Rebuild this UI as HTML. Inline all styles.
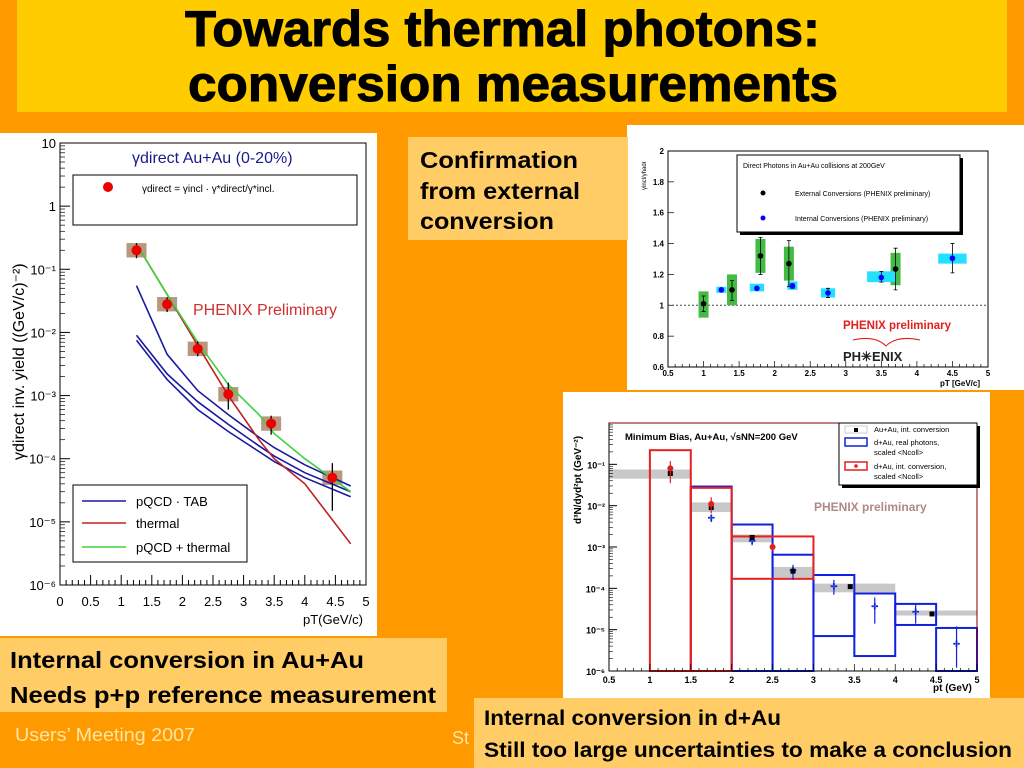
<!DOCTYPE html>
<html><head><meta charset="utf-8"><style>
html,body{margin:0;padding:0;background:#FF9900;}
svg{display:block;font-family:"Liberation Sans",sans-serif;}
</style></head><body>
<svg id="s" width="1024" height="768" viewBox="0 0 1024 768">
<rect x="0" y="0" width="1024" height="768" fill="#FF9900"/>
<rect x="17" y="0" width="990" height="112" fill="#FFCC00"/>
<text x="185" y="46" font-size="50" font-weight="bold" stroke="#000" stroke-width="1" textLength="635" lengthAdjust="spacingAndGlyphs">Towards thermal photons:</text>
<text x="188" y="101" font-size="50" font-weight="bold" stroke="#000" stroke-width="1" textLength="650" lengthAdjust="spacingAndGlyphs">conversion measurements</text>

<rect x="0" y="133" width="377" height="503" fill="#fff"/>
<rect x="627" y="125" width="397" height="265" fill="#fff"/>
<rect x="563" y="392" width="427" height="306" fill="#fff"/>

<rect x="408" y="137" width="220" height="103" fill="#FFCC66"/>
<text x="420" y="168" font-size="23" font-weight="bold" textLength="158" lengthAdjust="spacingAndGlyphs">Confirmation</text>
<text x="420" y="199" font-size="23" font-weight="bold" textLength="160" lengthAdjust="spacingAndGlyphs">from external</text>
<text x="420" y="229" font-size="23" font-weight="bold" textLength="134" lengthAdjust="spacingAndGlyphs">conversion</text>

<rect x="0" y="638" width="447" height="74" fill="#FFCC66"/>
<text x="10" y="668" font-size="23" font-weight="bold" textLength="354" lengthAdjust="spacingAndGlyphs">Internal conversion in Au+Au</text>
<text x="10" y="703" font-size="23" font-weight="bold" textLength="426" lengthAdjust="spacingAndGlyphs">Needs p+p reference measurement</text>
<text x="15" y="741" font-size="18" fill="#FFE6A0" textLength="180" lengthAdjust="spacingAndGlyphs">Users’ Meeting 2007</text>
<text x="452" y="744" font-size="18" fill="#FFE6A0">St</text>
<rect x="474" y="698" width="550" height="70" fill="#FFCC66"/>
<text x="484" y="725" font-size="21" font-weight="bold" textLength="297" lengthAdjust="spacingAndGlyphs">Internal conversion in d+Au</text>
<text x="484" y="757" font-size="21" font-weight="bold" textLength="528" lengthAdjust="spacingAndGlyphs">Still too large uncertainties to make a conclusion</text>
<g id="g1"></g><g id="g2"></g><g id="g3"></g>
</svg>
<script>
// ---- Left chart data ----
const leftPtX = [1.25, 1.75, 2.25, 2.75, 3.45, 4.45];
const leftPtY = [0.2, 0.028, 0.0055, 0.00105, 0.00036, 0.00005];
const leftErrLo = [0.15, 0.021, 0.0042, 0.0006, 0.00024, 0.000015];
const leftErrHi = [0.26, 0.036, 0.0072, 0.0016, 0.00048, 0.000085];
const curveX = [1.25, 1.75, 2.25, 2.75, 3.25, 3.5, 4, 4.75];
const greenY = [0.25, 0.04, 0.007, 0.0015, 0.0005, 0.00025, 0.0001, 0.00003];
const thermalY = [0.25, 0.04, 0.0062, 0.001, 0.0002, 0.0001, 0.00004, 0.0000045];
const blueUpY = [0.055, 0.0045, 0.0012, 0.0005, 0.00022, 0.00015, 0.00008, 0.000037];
const blueMidY = [0.009, 0.0022, 0.0008, 0.00035, 0.00016, 0.00011, 0.00006, 0.00003];
const blueLoY = [0.0075, 0.0018, 0.0006, 0.00027, 0.00013, 0.00009, 0.00005, 0.000025];
const leftXTicks = ["0","0.5","1","1.5","2","2.5","3","3.5","4","4.5","5"];
const leftYTicks = ["10","1","10⁻¹","10⁻²","10⁻³","10⁻⁴","10⁻⁵","10⁻⁶"];
// ---- Ratio chart data ----
const extX = [1.0, 1.4, 1.8, 2.2, 3.7];
const extY = [1.01, 1.10, 1.32, 1.27, 1.235];
const extSysLo = [0.92, 1.0, 1.21, 1.16, 1.13];
const extSysHi = [1.09, 1.2, 1.43, 1.38, 1.34];
const extErrLo = [0.96, 1.03, 1.2, 1.12, 1.1];
const extErrHi = [1.06, 1.16, 1.44, 1.42, 1.37];
const intX = [1.25, 1.75, 2.25, 2.75, 3.5, 4.5];
const intY = [1.10, 1.11, 1.125, 1.08, 1.18, 1.305];
const intSysLo = [1.08, 1.09, 1.10, 1.05, 1.15, 1.27];
const intSysHi = [1.12, 1.14, 1.155, 1.11, 1.22, 1.335];
const intErrLo = [1.09, 1.10, 1.11, 1.05, 1.15, 1.21];
const intErrHi = [1.11, 1.12, 1.14, 1.11, 1.22, 1.40];
const intHalfW = [0.07, 0.1, 0.07, 0.1, 0.2, 0.2];
const ratioXTicks = ["0.5","1","1.5","2","2.5","3","3.5","4","4.5","5"];
const ratioYTicks = ["0.6","0.8","1","1.2","1.4","1.6","1.8","2"];
// ---- d+Au chart data ----
const redBoxX0 = [1, 1.5, 2];
const redBoxX1 = [1.5, 2, 3];
const redBoxLo = [1e-6, 1e-6, 1.7e-4];
const redBoxHi = [0.22, 0.027, 1.8e-3];
const blueBoxX0 = [1.5, 2, 2.5, 3, 3.5, 4, 4.5];
const blueBoxX1 = [2, 2.5, 3, 3.5, 4, 4.5, 5];
const blueBoxLo = [1e-6, 1e-6, 1e-6, 7e-6, 2.3e-6, 1.3e-5, 1e-6];
const blueBoxHi = [0.029, 3.5e-3, 6.5e-4, 2.1e-4, 7.5e-5, 4.2e-5, 1.1e-5];
const grayX0 = [0.5, 1.5, 2, 2.5, 3, 4];
const grayX1 = [1.5, 2, 2.5, 3, 4, 5];
const grayLo = [0.045, 0.007, 0.0013, 0.00018, 8e-5, 2.2e-5];
const grayHi = [0.075, 0.012, 0.002, 0.00033, 1.3e-4, 2.9e-5];
const auX = [1.25, 1.75, 2.25, 2.75, 3.45, 4.45];
const auY = [0.06, 0.009, 0.0017, 0.00026, 0.00011, 0.000024];
const dauX = [1.75, 2.25, 2.75, 3.25, 3.75, 4.25, 4.75];
const dauY = [0.005, 0.0014, 0.00027, 0.00011, 0.000036, 0.000027, 0.0000045];
const dauLo = [0.004, 0.0011, 0.00016, 0.00007, 0.000014, 0.000014, 0.0000012];
const dauHi = [0.006, 0.0018, 0.00037, 0.00016, 0.00006, 0.00004, 0.000012];
const dconvX = [1.25, 1.75, 2.5];
const dconvY = [0.08, 0.011, 0.001];
const dconvLo = [0.035, 0.0065, 0.0008];
const dconvHi = [0.12, 0.016, 0.0012];
const dauXTicks = ["0.5","1","1.5","2","2.5","3","3.5","4","4.5","5"];
const dauYTicks = ["10⁻⁶","10⁻⁵","10⁻⁴","10⁻³","10⁻²","10⁻¹"];

const NS = "http://www.w3.org/2000/svg";
function mk(parent, tag, attrs, txt) {
  const e = document.createElementNS(NS, tag);
  for (const k in attrs) e.setAttribute(k, attrs[k]);
  if (txt !== undefined) e.textContent = txt;
  parent.appendChild(e);
  return e;
}
function pathOf(xs, ys, sx, sy) {
  return xs.map((x, i) => (i ? "L" : "M") + sx(x).toFixed(1) + "," + sy(ys[i]).toFixed(1)).join(" ");
}

// ================= LEFT CHART =================
(function () {
  const g = document.getElementById("g1");
  const L = 60, R = 366, T = 143, B = 585;
  const sx = v => L + (v / 5) * (R - L);
  const sy = v => B - (Math.log10(v) + 6) / 7 * (B - T);
  const f = mk(g, "rect", { x: L, y: T, width: R - L, height: B - T, fill: "none", stroke: "#000", "stroke-width": 1 });
  
  
  for (let i = 0; i <= 50; i++) {
    const x = sx(i * 0.1), len = i % 5 === 0 ? 10 : 5;
    mk(g, "line", { x1: x, x2: x, y1: B, y2: B - len, stroke: "#000" });
  }
  leftXTicks.forEach((t, i) => {
    const e = mk(g, "text", { x: sx(i * 0.5), y: 606, "font-size": 13, "text-anchor": "middle" }, t);
    
    
  });
  leftYTicks.forEach((t, i) => {
    const v = Math.pow(10, 1 - i);
    const e = mk(g, "text", { x: 56, y: sy(v) + 5, "font-size": 13, "text-anchor": "end" }, t);
    
    
    mk(g, "line", { x1: L, x2: L + 10, y1: sy(v), y2: sy(v), stroke: "#000" });
    if (i < 7) for (let k = 2; k < 10; k++) {
      const y = sy(v / 10 * k);
      mk(g, "line", { x1: L, x2: L + 5, y1: y, y2: y, stroke: "#000", "stroke-width": 0.7 });
    }
  });
  const xt = mk(g, "text", { x: 303, y: 624, "font-size": 13 }, "pT(GeV/c)");
  
  
  const yt = mk(g, "text", { x: 0, y: 0, "font-size": 16, transform: "translate(24,460) rotate(-90)" }, "γdirect inv. yield ((GeV/c)⁻²)");
  
  
  const tt = mk(g, "text", { x: 132, y: 163, "font-size": 16, fill: "#1a1a8c" }, "γdirect Au+Au (0-20%)");
  
  
  const lb = mk(g, "rect", { x: 73, y: 175, width: 284, height: 50, fill: "#fff", stroke: "#000" });
  
  
  mk(g, "circle", { cx: 108, cy: 187, r: 5, fill: "#e00" });
  const ft = mk(g, "text", { x: 142, y: 192, "font-size": 10 }, "γdirect = γincl · γ*direct/γ*incl.");
  
  
  const ph = mk(g, "text", { x: 193, y: 315, "font-size": 16, fill: "#d03030" }, "PHENIX Preliminary");
  
  
  leftPtX.forEach((x, i) => {
    const b = mk(g, "rect", { x: sx(x) - 10, y: sy(leftPtY[i] * 1.3), width: 20, height: sy(leftPtY[i] / 1.3) - sy(leftPtY[i] * 1.3), fill: "#b8987e" });
    
    
  });
  [[blueUpY, "#1a1aa0"], [blueMidY, "#1a1aa0"], [blueLoY, "#1a1aa0"], [thermalY, "#c02020"], [greenY, "#40d040"]].forEach(([ys, c], j) => {
    const p = mk(g, "path", { d: pathOf(curveX, ys, sx, sy), fill: "none", stroke: c, "stroke-width": 1.6 });
    
    
  });
  leftPtX.forEach((x, i) => {
    mk(g, "line", { x1: sx(x), x2: sx(x), y1: sy(leftErrLo[i]), y2: sy(leftErrHi[i]), stroke: "#000", "stroke-width": 1.3 });
    const c = mk(g, "circle", { cx: sx(x), cy: sy(leftPtY[i]), r: 5, fill: "#e00" });
    
    
  });
  const lb2 = mk(g, "rect", { x: 73, y: 485, width: 174, height: 77, fill: "#fff", stroke: "#000" });
  
  
  [["pQCD · TAB", "#1a1aa0", 502], ["thermal", "#c02020", 524], ["pQCD + thermal", "#40d040", 548]].forEach(([t, c, y]) => {
    mk(g, "line", { x1: 82, x2: 126, y1: y - 1, y2: y - 1, stroke: c, "stroke-width": 1.6 });
    const e = mk(g, "text", { x: 136, y: y + 4, "font-size": 13 }, t);
    
    
  });
})();

// ================= RATIO CHART =================
(function () {
  const g = document.getElementById("g2");
  const L = 668, R = 988, T = 151, B = 367;
  const sx = v => L + (v - 0.5) / 4.5 * (R - L);
  const sy = v => B - (v - 0.6) / 1.4 * (B - T);
  const f = mk(g, "rect", { x: L, y: T, width: R - L, height: B - T, fill: "none", stroke: "#000" });
  
  
  for (let i = 0; i <= 45; i++) {
    const x = sx(0.5 + i * 0.1);
    mk(g, "line", { x1: x, x2: x, y1: B, y2: B - (i % 5 ? 3 : 6), stroke: "#000", "stroke-width": 0.7 });
  }
  ratioXTicks.forEach((t, i) => {
    const e = mk(g, "text", { x: sx(0.5 + i * 0.5), y: 376, "font-size": 8, "font-weight": "bold", "text-anchor": "middle" }, t);
    
    
  });
  ratioYTicks.forEach((t, i) => {
    const v = 0.6 + i * 0.2;
    mk(g, "line", { x1: L, x2: L + 6, y1: sy(v), y2: sy(v), stroke: "#000", "stroke-width": 0.7 });
    const e = mk(g, "text", { x: 664, y: sy(v) + 3, "font-size": 8, "font-weight": "bold", "text-anchor": "end" }, t);
    
    
  });
  const xt = mk(g, "text", { x: 940, y: 386, "font-size": 8, "font-weight": "bold" }, "pT [GeV/c]");
  
  
  const yt = mk(g, "text", { x: 0, y: 0, "font-size": 6, transform: "translate(646,190) rotate(-90)" }, "γincl/γhadr");
  
  
  mk(g, "line", { x1: L, x2: R, y1: sy(1), y2: sy(1), stroke: "#444", "stroke-dasharray": "2,2" });
  mk(g, "rect", { x: 740, y: 158, width: 223, height: 77, fill: "#000" });
  const lb = mk(g, "rect", { x: 737, y: 155, width: 223, height: 77, fill: "#fff", stroke: "#000" });
  
  
  mk(g, "text", { x: 743, y: 168, "font-size": 7 }, "Direct Photons in Au+Au collisions at 200GeV");
  mk(g, "circle", { cx: 763, cy: 193, r: 2.5, fill: "#000" });
  mk(g, "text", { x: 795, y: 196, "font-size": 7 }, "External Conversions (PHENIX preliminary)");
  mk(g, "circle", { cx: 763, cy: 218, r: 2.5, fill: "#00f" });
  mk(g, "text", { x: 795, y: 221, "font-size": 7 }, "Internal Conversions (PHENIX preliminary)");
  extX.forEach((x, i) => {
    const b = mk(g, "rect", { x: sx(x) - 5, y: sy(extSysHi[i]), width: 10, height: sy(extSysLo[i]) - sy(extSysHi[i]), fill: "#44bb44" });
    
    
  });
  intX.forEach((x, i) => {
    const b = mk(g, "rect", { x: sx(x - intHalfW[i]), y: sy(intSysHi[i]), width: sx(x + intHalfW[i]) - sx(x - intHalfW[i]), height: sy(intSysLo[i]) - sy(intSysHi[i]), fill: "#22e0ff" });
    
    
  });
  extX.forEach((x, i) => {
    mk(g, "path", { d: `M${sx(x)},${sy(extErrLo[i])}V${sy(extErrHi[i])}M${sx(x) - 2},${sy(extErrLo[i])}h4M${sx(x) - 2},${sy(extErrHi[i])}h4`, stroke: "#000", "stroke-width": 0.8 });
    const c = mk(g, "circle", { cx: sx(x), cy: sy(extY[i]), r: 2.8, fill: "#000" });
    
    
  });
  intX.forEach((x, i) => {
    mk(g, "path", { d: `M${sx(x)},${sy(intErrLo[i])}V${sy(intErrHi[i])}M${sx(x) - 2},${sy(intErrLo[i])}h4M${sx(x) - 2},${sy(intErrHi[i])}h4`, stroke: "#000", "stroke-width": 0.8 });
    const c = mk(g, "circle", { cx: sx(x), cy: sy(intY[i]), r: 2.8, fill: "#00f" });
    
    
  });
  const ph = mk(g, "text", { x: 843, y: 329, "font-size": 11.5, "font-weight": "bold", fill: "#e02020" }, "PHENIX preliminary");
  
  
  mk(g, "path", { d: "M853,340 Q875,335 886,346 Q897,335 920,340", fill: "none", stroke: "#e02020", "stroke-width": 1 });
  const lg = mk(g, "text", { x: 843, y: 361, "font-size": 13, "font-weight": "bold", fill: "#222" }, "PH✳ENIX");
  
  
})();

// ================= d+Au CHART =================
(function () {
  const g = document.getElementById("g3");
  const L = 609, R = 977, T = 423, B = 671;
  const sx = v => L + (v - 0.5) / 4.5 * (R - L);
  const sy = v => B - (Math.log10(v) + 6) / 6 * (B - T);
  grayX0.forEach((x, i) => {
    const b = mk(g, "rect", { x: sx(x), y: sy(grayHi[i]), width: sx(grayX1[i]) - sx(x), height: sy(grayLo[i]) - sy(grayHi[i]), fill: "#c8c8c8" });
    
    
  });
  blueBoxX0.forEach((x, i) => {
    const b = mk(g, "rect", { x: sx(x), y: sy(blueBoxHi[i]), width: sx(blueBoxX1[i]) - sx(x), height: sy(blueBoxLo[i]) - sy(blueBoxHi[i]), fill: "none", stroke: "#1020e0", "stroke-width": 2 });
    
    
  });
  redBoxX0.forEach((x, i) => {
    const b = mk(g, "rect", { x: sx(x), y: sy(redBoxHi[i]), width: sx(redBoxX1[i]) - sx(x), height: sy(redBoxLo[i]) - sy(redBoxHi[i]), fill: "none", stroke: "#e82020", "stroke-width": 2 });
    
    
  });
  const f = mk(g, "rect", { x: L, y: T, width: R - L, height: B - T, fill: "none", stroke: "#800000" });
  
  
  mk(g, "line", { x1: L, x2: R, y1: B, y2: B, stroke: "#000" });
  mk(g, "line", { x1: L, x2: L, y1: T, y2: B, stroke: "#000" });
  for (let i = 0; i <= 45; i++) {
    const x = sx(0.5 + i * 0.1);
    mk(g, "line", { x1: x, x2: x, y1: B, y2: B - (i % 5 ? 3 : 7), stroke: "#000", "stroke-width": 0.7 });
  }
  dauXTicks.forEach((t, i) => {
    const e = mk(g, "text", { x: sx(0.5 + i * 0.5), y: 683, "font-size": 9, "font-weight": "bold", "text-anchor": "middle" }, t);
    
    
  });
  dauYTicks.forEach((t, i) => {
    const v = Math.pow(10, i - 6);
    mk(g, "line", { x1: L, x2: L + 8, y1: sy(v), y2: sy(v), stroke: "#000" });
    for (let k = 2; k < 10; k++) mk(g, "line", { x1: L, x2: L + 4, y1: sy(v * k), y2: sy(v * k), stroke: "#000", "stroke-width": 0.6 });
    const e = mk(g, "text", { x: 605, y: sy(v) + 4, "font-size": 9, "font-weight": "bold", "text-anchor": "end" }, t);
    
    
  });
  const xt = mk(g, "text", { x: 933, y: 691, "font-size": 10, "font-weight": "bold" }, "pt (GeV)");
  
  
  const yt = mk(g, "text", { x: 0, y: 0, "font-size": 10, "font-weight": "bold", transform: "translate(581,524) rotate(-90)" }, "d³N/dyd²pt (GeV⁻²)");
  
  
  const tt = mk(g, "text", { x: 625, y: 440, "font-size": 9.5, "font-weight": "bold" }, "Minimum Bias, Au+Au, √sNN=200 GeV");
  
  
  const ph = mk(g, "text", { x: 814, y: 511, "font-size": 12, "font-weight": "bold", fill: "#b08888" }, "PHENIX preliminary");
  
  
  dauX.forEach((x, i) => {
    mk(g, "line", { x1: sx(x), x2: sx(x), y1: sy(dauLo[i]), y2: sy(dauHi[i]), stroke: "#1020e0", "stroke-width": 1.2 });
    const c = mk(g, "text", { x: sx(x), y: sy(dauY[i]) + 3, "font-size": 9, "text-anchor": "middle", fill: "#1020e0" }, "✜");
    
    
  });
  auX.forEach((x, i) => {
    const c = mk(g, "rect", { x: sx(x) - 2.5, y: sy(auY[i]) - 2.5, width: 5, height: 5, fill: "#000" });
    
    
  });
  dconvX.forEach((x, i) => {
    mk(g, "line", { x1: sx(x), x2: sx(x), y1: sy(dconvLo[i]), y2: sy(dconvHi[i]), stroke: "#e02020", "stroke-width": 1.2 });
    const c = mk(g, "circle", { cx: sx(x), cy: sy(dconvY[i]), r: 3, fill: "#e02020" });
    
    
  });
  mk(g, "rect", { x: 842, y: 426, width: 138, height: 62, fill: "#000" });
  const lb = mk(g, "rect", { x: 839, y: 423, width: 138, height: 62, fill: "#fff", stroke: "#000" });
  
  
  mk(g, "rect", { x: 845, y: 426, width: 22, height: 7, fill: "#fff", stroke: "#ccc" });
  mk(g, "rect", { x: 854, y: 428, width: 4, height: 4, fill: "#000" });
  mk(g, "text", { x: 874, y: 432, "font-size": 7.5 }, "Au+Au, int. conversion");
  mk(g, "rect", { x: 845, y: 438, width: 22, height: 8, fill: "none", stroke: "#1020e0", "stroke-width": 1.5 });
  mk(g, "text", { x: 874, y: 445, "font-size": 7.5 }, "d+Au, real photons,");
  mk(g, "text", { x: 874, y: 455, "font-size": 7.5 }, "scaled <Ncoll>");
  mk(g, "rect", { x: 845, y: 462, width: 22, height: 8, fill: "none", stroke: "#e02020", "stroke-width": 1.5 });
  mk(g, "circle", { cx: 856, cy: 466, r: 1.8, fill: "#e02020" });
  mk(g, "text", { x: 874, y: 469, "font-size": 7.5 }, "d+Au, int. conversion,");
  mk(g, "text", { x: 874, y: 479, "font-size": 7.5 }, "scaled <Ncoll>");
})();
</script>
</body></html>
